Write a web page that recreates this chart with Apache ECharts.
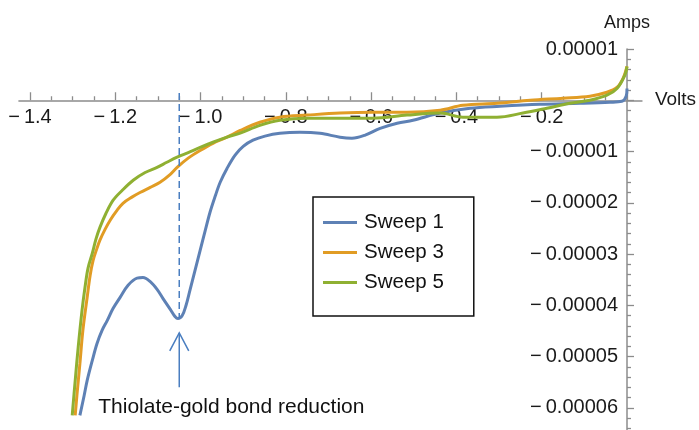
<!DOCTYPE html>
<html>
<head>
<meta charset="utf-8">
<script src="https://cdn.jsdelivr.net/npm/echarts@6/dist/echarts.min.js"></script>
<style>
  html, body { margin: 0; padding: 0; background: #fff; }
  #chart { width: 699px; height: 430px; }
</style>
</head>
<body>
<div id="chart"></div>
<script>
// Cyclic voltammetry sweeps: potential (V) vs current (A)
const sweepNames = ['Sweep 1', 'Sweep 3', 'Sweep 5'];
const sweepColors = ['#5E81B5', '#E19C24', '#8FB032'];

const sweep1 = [
  [-1.283, -61.5e-6], [-1.273, -57.6e-6], [-1.266, -54.7e-6], [-1.254, -50.8e-6],
  [-1.243, -47.5e-6], [-1.231, -44.9e-6], [-1.219, -43.0e-6], [-1.205, -40.6e-6],
  [-1.189, -38.5e-6], [-1.170, -36.1e-6], [-1.149, -34.7e-6], [-1.135, -34.6e-6],
  [-1.118, -35.4e-6], [-1.102, -36.9e-6], [-1.088, -38.7e-6], [-1.071, -40.8e-6],
  [-1.060, -42.2e-6], [-1.053, -42.6e-6], [-1.043, -42.0e-6], [-1.034, -40.0e-6],
  [-1.025, -37.1e-6], [-1.013, -33.2e-6], [-1.001, -29.3e-6], [-0.989, -25.4e-6],
  [-0.978, -21.9e-6], [-0.966, -18.8e-6], [-0.954, -16.0e-6], [-0.938, -13.3e-6],
  [-0.919, -10.7e-6], [-0.900, -9.0e-6], [-0.877, -7.8e-6], [-0.849, -7.0e-6],
  [-0.814, -6.45e-6], [-0.767, -6.25e-6], [-0.720, -6.45e-6], [-0.673, -7.2e-6],
  [-0.645, -7.4e-6], [-0.614, -6.8e-6], [-0.579, -5.5e-6], [-0.539, -4.5e-6],
  [-0.502, -3.9e-6], [-0.438, -2.5e-6], [-0.368, -1.56e-6], [-0.298, -1.17e-6],
  [-0.204, -0.78e-6], [-0.110, -0.59e-6], [-0.040, -0.39e-6], [-0.012, -0.2e-6],
  [-0.002, 0.78e-6], [0.0, 2.3e-6]
];

const sweep3 = [
  [-1.294, -61.5e-6], [-1.290, -57.6e-6], [-1.283, -51.4e-6], [-1.276, -44.9e-6],
  [-1.266, -38.5e-6], [-1.259, -34.2e-6], [-1.252, -31.25e-6], [-1.243, -28.9e-6],
  [-1.236, -27.3e-6], [-1.224, -25.2e-6], [-1.212, -23.4e-6], [-1.196, -21.5e-6],
  [-1.182, -20.1e-6], [-1.161, -18.9e-6], [-1.142, -18.0e-6], [-1.118, -17.0e-6],
  [-1.095, -16.0e-6], [-1.071, -14.45e-6], [-1.055, -13.1e-6], [-1.029, -11.3e-6],
  [-1.001, -9.8e-6], [-0.971, -8.4e-6], [-0.938, -7.2e-6], [-0.907, -5.9e-6],
  [-0.861, -4.3e-6], [-0.814, -3.3e-6], [-0.750, -2.9e-6], [-0.673, -2.5e-6],
  [-0.596, -2.35e-6], [-0.516, -2.35e-6], [-0.438, -1.95e-6], [-0.385, -0.98e-6],
  [-0.305, -0.6e-6], [-0.227, 0.0], [-0.150, 0.4e-6], [-0.087, 0.8e-6],
  [-0.047, 1.56e-6], [-0.023, 2.54e-6], [-0.009, 4.3e-6], [0.0, 6.6e-6]
];

const sweep5 = [
  [-1.301, -61.5e-6], [-1.294, -54.7e-6], [-1.287, -48.2e-6], [-1.278, -41.0e-6],
  [-1.271, -36.5e-6], [-1.264, -32.8e-6], [-1.254, -29.9e-6], [-1.245, -27.0e-6],
  [-1.236, -24.8e-6], [-1.222, -22.1e-6], [-1.205, -19.5e-6], [-1.184, -17.6e-6],
  [-1.158, -15.6e-6], [-1.130, -14.1e-6], [-1.102, -13.1e-6], [-1.079, -12.1e-6],
  [-1.055, -11.1e-6], [-1.029, -10.2e-6], [-1.001, -9.2e-6], [-0.971, -8.2e-6],
  [-0.938, -7.2e-6], [-0.907, -6.4e-6], [-0.861, -4.9e-6], [-0.814, -3.9e-6],
  [-0.750, -3.5e-6], [-0.673, -3.5e-6], [-0.596, -3.5e-6], [-0.516, -2.9e-6],
  [-0.438, -2.5e-6], [-0.385, -3.3e-6], [-0.305, -3.3e-6], [-0.244, -2.5e-6],
  [-0.188, -1.56e-6], [-0.134, -0.59e-6], [-0.087, 0.0], [-0.047, 0.98e-6],
  [-0.023, 2.34e-6], [-0.005, 4.9e-6], [0.0, 6.6e-6]
];

// Axis ranges and tick spacing
const xMin = -1.4, xMax = 0, xStep = 0.2;
const xLineMin = -1.426, xLineMax = 0.035;     // extent of the drawn potential axis line
const yMin = -7e-5, yMax = 1e-5, yStep = 1e-5;

// Annotation: reduction peak of the first sweep
const peakV = -1.05;
const guideTop = 1.4e-6;
const guideBottom = -42.6e-6;
const arrowTip = -45.4e-6;
const arrowTail = -56.0e-6;
const noteText = 'Thiolate-gold bond reduction';
const notePos = [-1.24, -59.8e-6];

const FONT = '"Liberation Sans", Arial, sans-serif';
const MINUS = '\u2212\u2009';
const W = 699, H = 430;
const gridLeft = 30, gridRight = 72, gridTop = 49, gridBottom = -29;
const pxPerVolt = (W - gridLeft - gridRight) / (xMax - xMin);
const pxPerAmp = (H - gridTop - gridBottom) / (yMax - yMin);
const zeroY = gridTop + yMax * pxPerAmp;          // pixel row of zero current

const chart = echarts.init(document.getElementById('chart'), null, { renderer: 'canvas' });

const axisGray = '#8c8c8c';
const labelColor = '#1a1a1a';

const option = {
  animation: false,
  backgroundColor: '#fff',
  textStyle: { fontFamily: FONT },
  grid: [
    // plot area
    { left: gridLeft, right: gridRight, top: gridTop, bottom: gridBottom, outerBoundsMode: 'none', containLabel: false },
    // potential ticks/labels, bottom edge on the zero-current row
    { left: gridLeft, right: gridRight, top: 0, bottom: H - zeroY, outerBoundsMode: 'none', containLabel: false },
    // potential axis line, slightly longer than the ticked range
    {
      left: gridLeft + (xLineMin - xMin) * pxPerVolt,
      right: gridRight - (xLineMax - xMax) * pxPerVolt,
      top: 0, bottom: H - zeroY, outerBoundsMode: 'none', containLabel: false
    }
  ],
  xAxis: [
    { type: 'value', gridIndex: 0, min: xMin, max: xMax, show: false },
    {
      type: 'value', gridIndex: 1, min: xMin, max: xMax, interval: xStep,
      position: 'bottom',
      axisLine: { show: false, onZero: false },
      axisTick: { show: true, inside: true, length: 8, lineStyle: { color: axisGray, width: 1.3 } },
      minorTick: { show: true, splitNumber: 4, length: 4, lineStyle: { color: axisGray, width: 1.3 } },
      splitLine: { show: false },
      axisLabel: {
        color: labelColor, fontSize: 20, fontFamily: FONT, margin: 7,
        formatter: v => Math.abs(v) < 1e-9 ? '' : (v < 0 ? MINUS : '') + Math.abs(v).toFixed(1)
      }
    },
    {
      type: 'value', gridIndex: 2, min: xLineMin, max: xLineMax,
      position: 'bottom',
      axisLine: { show: true, onZero: false, lineStyle: { color: axisGray, width: 1.5 } },
      axisTick: { show: false }, axisLabel: { show: false }, splitLine: { show: false },
      name: 'Volts', nameLocation: 'end', nameGap: 13,
      nameTextStyle: { color: labelColor, fontSize: 19, fontFamily: FONT, align: 'left', verticalAlign: 'middle' }
    }
  ],
  yAxis: [
    {
      type: 'value', gridIndex: 0, min: yMin, max: yMax, interval: yStep,
      position: 'right',
      axisLine: { show: true, onZero: false, lineStyle: { color: axisGray, width: 1.5 } },
      axisTick: { show: true, inside: false, length: 7, lineStyle: { color: axisGray, width: 1.3 } },
      minorTick: { show: true, splitNumber: 5, length: 4, lineStyle: { color: axisGray, width: 1.3 } },
      splitLine: { show: false },
      axisLabel: {
        inside: true,
        color: labelColor, fontSize: 20, fontFamily: FONT, margin: 9,
        formatter: v => {
          const k = Math.round(v / yStep);
          if (k === 0 || Math.abs(v - k * yStep) > 1e-9) return '';
          return (k < 0 ? MINUS : '') + '0.0000' + Math.abs(k);
        }
      },
      name: 'Amps', nameLocation: 'end', nameGap: 17,
      nameTextStyle: { color: labelColor, fontSize: 18, fontFamily: FONT, align: 'center', verticalAlign: 'bottom' }
    },
    { type: 'value', gridIndex: 1, min: -1, max: 1, show: false },
    { type: 'value', gridIndex: 2, min: -1, max: 1, show: false }
  ],
  legend: {
    data: sweepNames,
    orient: 'vertical',
    left: 313, top: 197,
    padding: [15, 30, 23, 10],
    itemGap: 9,
    itemWidth: 34, itemHeight: 3,
    icon: 'rect',
    borderColor: '#111', borderWidth: 1.5,
    backgroundColor: '#fff',
    textStyle: { color: '#111', fontSize: 20.5, fontFamily: FONT, lineHeight: 20, padding: [0, 0, 0, 2] }
  },
  series: [
    ...[sweep1, sweep3, sweep5].map((d, i) => ({
      name: sweepNames[i],
      type: 'line',
      xAxisIndex: 0, yAxisIndex: 0,
      data: d,
      showSymbol: false,
      smooth: 0.35,
      clip: false,
      color: sweepColors[i],
      lineStyle: { width: 3, color: sweepColors[i] },
      z: 3 + i
    })),
    {
      type: 'custom',
      xAxisIndex: 0, yAxisIndex: 0,
      data: [[peakV, guideBottom]],
      silent: true,
      clip: false,
      z: 10,
      renderItem: (params, api) => {
        const top = api.coord([peakV, guideTop]);
        const bot = api.coord([peakV, guideBottom]);
        const tip = api.coord([peakV, arrowTip]);
        const tail = api.coord([peakV, arrowTail]);
        const note = api.coord(notePos);
        const blue = '#4A7EC0';
        return {
          type: 'group',
          children: [
            { type: 'line', shape: { x1: top[0], y1: top[1], x2: bot[0], y2: bot[1] },
              style: { stroke: blue, lineWidth: 1.5, lineDash: [7, 4] } },
            { type: 'line', shape: { x1: tail[0], y1: tail[1], x2: tip[0], y2: tip[1] },
              style: { stroke: blue, lineWidth: 1.5 } },
            { type: 'polyline', shape: { points: [[tip[0] - 9.5, tip[1] + 18], [tip[0], tip[1]], [tip[0] + 9.5, tip[1] + 18]] },
              style: { stroke: blue, lineWidth: 1.5, fill: null } },
            { type: 'text', x: note[0], y: note[1],
              style: { text: noteText, fill: '#111', font: '21px ' + FONT, textAlign: 'left', textVerticalAlign: 'middle' } }
          ]
        };
      }
    }
  ]
};

chart.setOption(option);
</script>
</body>
</html>
